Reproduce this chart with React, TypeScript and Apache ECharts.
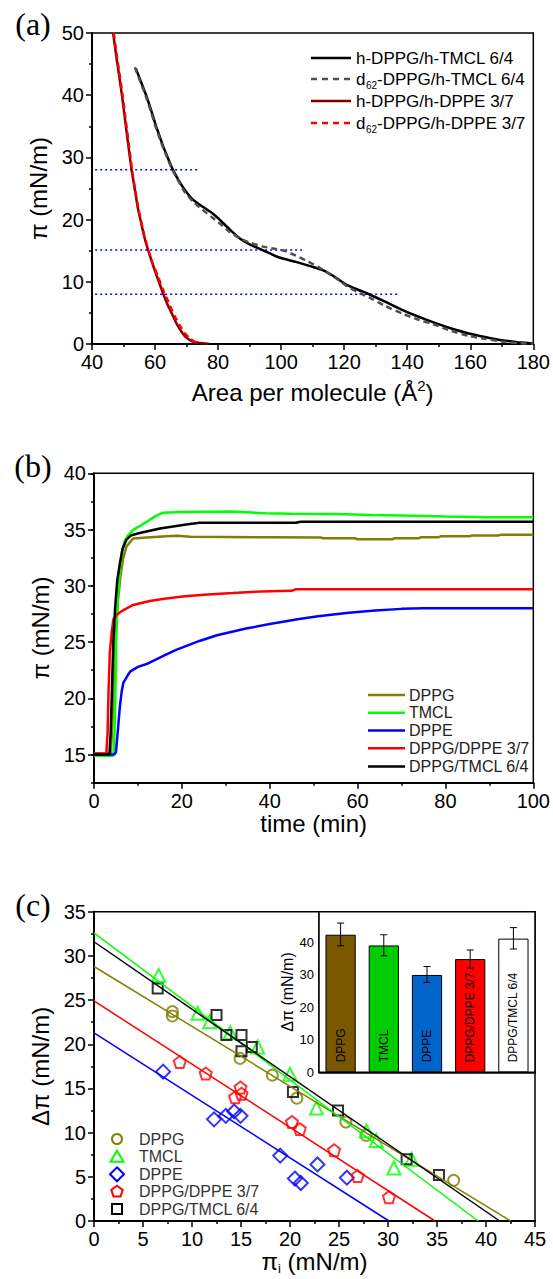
import React, { useEffect, useRef } from 'react';
import * as echarts from 'echarts';

const FONT = 'Liberation Sans, Arial, sans-serif';
const SERIF = 'Liberation Serif, Times New Roman, serif';

// ---------- Panel (a): isotherms ----------
const hTmclIsotherm: number[][] = [[53.9,44.3],[55.5,42.2],[57.3,39.8],[59,37.2],[60.4,34.9],[62.5,31.9],[64,30],[65.7,28],[67.5,26.3],[69.4,24.8],[72,23.2],[75,22.1],[78.3,21.0],[80.5,20.0],[83.5,18.5],[86.8,17.0],[90,16.0],[94.1,15.1],[96.3,14.6],[99.4,13.9],[104.7,13.2],[110,12.4],[113,11.9],[117.3,10.7],[120.5,9.6],[124,8.8],[127.9,8.0],[133,6.8],[138.4,5.5],[143,4.5],[149,3.35],[154,2.5],[159.5,1.7],[165,1.1],[170,0.6],[175,0.3],[180,0.1]];
const dTmclIsotherm: number[][] = [[53.6,44.5],[55.3,42.2],[57.1,39.8],[58.8,37.2],[60.2,34.9],[62.3,31.9],[63.8,30],[65.5,28],[67.3,26.3],[69.2,24.6],[72,22.9],[75,21.6],[78,20.4],[80.5,19.4],[83.5,18.1],[86.8,17.0],[90,16.3],[94,15.7],[98,15.3],[101,15.0],[104.7,14.2],[108,13.4],[112.1,12.3],[117.3,10.6],[120.5,9.4],[124,8.4],[127.9,7.5],[133,6.1],[138.4,4.9],[143,4.0],[149,3.05],[154,2.1],[159.5,1.3],[165,0.8],[170,0.4],[175,0.15],[180,0.05]];
const hDppeIsotherm: number[][] = [[46.7,50],[47.5,47],[48.5,43.5],[49.5,40],[50.5,36],[51.5,32],[52.55,28],[53.6,24.8],[54.5,22],[55.5,19.7],[56.6,17.2],[57.8,15.1],[59,13.2],[60.5,11.0],[62.5,8.2],[64,6.3],[65.5,4.7],[66.8,3.3],[68.5,1.9],[70,1.0],[72,0.4],[74,0.15],[77,0.05]];
const dDppeIsotherm: number[][] = [[46.9,50],[47.7,47],[48.7,43.5],[49.7,40],[50.7,36],[51.7,32],[52.7,28],[53.7,24.8],[54.6,22],[55.6,19.7],[56.7,17.2],[57.9,15.1],[59.1,13.2],[60.8,11.0],[62.9,8.3],[64.6,6.3],[66.2,4.5],[67.8,3.0],[69.5,1.7],[71,0.9],[72.5,0.35],[74,0.1]];
const guideLevels = [28, 15.1, 8];
const guideStart = 41;
const guideEnds = [74, 107, 137];
const isoLegend = ['h-DPPG/h-TMCL 6/4', 'd62-DPPG/h-TMCL 6/4', 'h-DPPG/h-DPPE 3/7', 'd62-DPPG/h-DPPE 3/7'];

// ---------- Panel (b): adsorption kinetics ----------
const kinDPPG: number[][] = [[0,15.1],[3.8,15.1],[4.1,17],[4.5,21],[4.9,25],[5.4,28.5],[6.0,30.8],[6.6,32.4],[7.4,33.5],[8.9,34.2],[12,34.3],[16.5,34.4],[19,34.45],[22,34.35],[40,34.32],[51.6,34.3],[52,34.23],[59.4,34.23],[60,34.14],[67.9,34.14],[68.5,34.23],[73.9,34.23],[74.5,34.32],[78.5,34.32],[79,34.41],[85.6,34.41],[86,34.47],[92,34.47],[92.5,34.53],[100,34.53]];
const kinTMCL: number[][] = [[0,14.9],[4.4,14.9],[4.6,16],[4.8,19],[5.0,23],[5.1,26.4],[5.5,29.4],[6.0,31.8],[6.3,32.9],[7.0,34.0],[7.8,34.5],[9,35.0],[10.4,35.3],[12,35.7],[13.8,36.15],[15.7,36.5],[20,36.55],[31.6,36.6],[39,36.45],[45,36.4],[55,36.38],[63,36.3],[70,36.24],[80,36.15],[90,36.1],[100,36.1]];
const kinDPPE: number[][] = [[0,15.0],[4.6,15.0],[5.0,15.2],[5.4,17],[5.9,19.3],[6.3,20.6],[6.7,21.4],[7.6,22.0],[8.3,22.4],[10,22.8],[12.3,23.1],[16.5,23.9],[18.7,24.3],[24,25.1],[28,25.6],[34.6,26.2],[40,26.6],[46.7,27.05],[51,27.3],[58,27.6],[64,27.8],[70,27.95],[75,28.0],[100,28.0]];
const kinDPPE37: number[][] = [[0,15.1],[2.8,15.1],[3.1,17],[3.3,20.5],[3.6,24],[4.0,25.8],[4.4,27.0],[5.1,27.4],[6.5,27.8],[8.9,28.3],[12.7,28.65],[16,28.85],[20.2,29.05],[25,29.2],[31.6,29.35],[38,29.5],[45,29.55],[46,29.7],[100,29.7]];
const kinTMCL64: number[][] = [[0,15.0],[3.5,15.0],[3.8,17],[4.1,21],[4.4,25],[4.8,28],[5.3,30.5],[5.9,32.0],[6.5,33.3],[7.4,34.1],[8.5,34.5],[10.4,34.7],[15,35.1],[21,35.45],[24,35.6],[46,35.6],[47,35.7],[100,35.7]];
const kinLegend = ['DPPG', 'TMCL', 'DPPE', 'DPPG/DPPE 3/7', 'DPPG/TMCL 6/4'];

// ---------- Panel (c): delta pi vs pi_i ----------
const scDPPG: number[][] = [[8.0,23.7],[8.0,23.2],[14.9,18.4],[18.2,16.5],[20.7,13.9],[25.7,11.2],[27.75,9.7],[36.7,4.6]];
const scTMCL: number[][] = [[6.6,27.8],[10.6,23.5],[11.8,22.55],[13.9,21.3],[16.7,19.7],[20.0,16.6],[22.7,12.8],[27.8,10.2],[28.8,9.1],[30.6,6.0],[32.4,7.0]];
const scDPPE: number[][] = [[7.05,16.9],[12.25,11.5],[13.45,11.9],[14.3,12.4],[14.95,11.9],[19.0,7.4],[20.5,4.8],[21.1,4.3],[22.8,6.4],[25.8,4.9]];
const scMix37: number[][] = [[8.75,18.0],[11.4,16.7],[14.4,14.0],[14.95,15.1],[15.05,14.4],[20.2,11.2],[21.0,10.4],[24.5,8.0],[26.9,5.1],[30.1,2.7]];
const scMix64: number[][] = [[6.5,26.3],[12.5,23.3],[13.5,21.05],[15.05,21.05],[15.05,19.2],[16.1,19.7],[20.3,14.6],[24.9,12.5],[31.9,7.0],[35.2,5.2]];
const fitIntercepts = [28.8, 32.6, 21.3, 24.9, 31.6];
const fitRoots = [42.5, 39.2, 30.1, 34.8, 41.4];

// inset
const insetCategories = ['DPPG', 'TMCL', 'DPPE', 'DPPG/DPPE 3/7', 'DPPG/TMCL 6/4'];
const insetValues = [42.4, 39.1, 30.0, 34.9, 41.2];
const insetErrLow = [39.0, 35.9, 27.7, 32.1, 38.0];
const insetErrHigh = [46.0, 42.4, 32.6, 37.7, 44.6];

const kinColors = ['#808000', '#00FF00', '#0000FF', '#FF0000', '#000000'];
const barColors = ['#7B5800', '#00CC00', '#0066CC', '#FF0000', '#FFFFFF'];

const axisCommon = {
  axisLine: { onZero: false, lineStyle: { color: '#000', width: 2 } },
  axisTick: { length: 6, lineStyle: { color: '#000', width: 1.5 } },
  minorTick: { show: true, splitNumber: 2, length: 3, lineStyle: { color: '#000', width: 1.5 } },
  splitLine: { show: false },
  axisLabel: { color: '#000', fontSize: 20, fontFamily: FONT, margin: 8 },
  nameLocation: 'middle',
  nameTextStyle: { color: '#000', fontSize: 24, fontFamily: FONT },
};

function buildOption() {
  const grids = [
    { left: 92, top: 33, width: 443, height: 311 },
    { left: 94, top: 473.3, width: 441, height: 309.4 },
    { left: 94, top: 911.7, width: 441, height: 309.3 },
    { left: 319, top: 911.7, width: 216, height: 160.6, backgroundColor: '#fff', z: 10 },
  ].map((g) => ({ show: true, borderColor: '#000', borderWidth: 1.5, backgroundColor: 'transparent', ...g }));

  const xAxis: any[] = [
    {
      ...axisCommon, gridIndex: 0, type: 'value', min: 40, max: 180, interval: 20,
      name: '{n|Area per molecule (Å}{s|2}{n|)}', nameGap: 34,
      nameTextStyle: { ...axisCommon.nameTextStyle, rich: {
        n: { fontSize: 24, fontFamily: FONT, color: '#000', lineHeight: 28 },
        s: { fontSize: 15, fontFamily: FONT, color: '#000', verticalAlign: 'top', lineHeight: 28 },
      } },
    },
    { ...axisCommon, gridIndex: 1, type: 'value', min: 0, max: 100, interval: 20, name: 'time (min)', nameGap: 28 },
    {
      ...axisCommon, gridIndex: 2, type: 'value', min: 0, max: 45, interval: 5,
      name: '{n|π}{s|i}{n| (mN/m)}', nameGap: 25,
      nameTextStyle: { ...axisCommon.nameTextStyle, rich: {
        n: { fontSize: 24, fontFamily: FONT, color: '#000', lineHeight: 26 },
        s: { fontSize: 13, fontFamily: FONT, color: '#000', verticalAlign: 'bottom', lineHeight: 26 },
      } },
    },
    {
      gridIndex: 3, type: 'category', data: insetCategories,
      axisLine: { lineStyle: { color: '#000', width: 1.5 } },
      axisTick: { show: false }, axisLabel: { show: false }, splitLine: { show: false },
    },
  ];

  const yAxis: any[] = [
    { ...axisCommon, gridIndex: 0, type: 'value', min: 0, max: 50, interval: 10, name: 'π (mN/m)', nameGap: 36 },
    {
      ...axisCommon, gridIndex: 1, type: 'value', min: 12.5, max: 40, position: 'left',
      axisLabel: { ...axisCommon.axisLabel, customValues: [15, 20, 25, 30, 35, 40] },
      axisTick: { ...axisCommon.axisTick, customValues: [15, 20, 25, 30, 35, 40] },
      minorTick: { show: false },
      name: 'π (mN/m)', nameGap: 38,
    },
    {
      gridIndex: 1, type: 'value', min: 12.5, max: 40, interval: 2.5, position: 'left',
      axisLine: { show: false }, axisLabel: { show: false }, splitLine: { show: false },
      axisTick: { length: 3, lineStyle: { color: '#000', width: 1.5 } },
    },
    { ...axisCommon, gridIndex: 2, type: 'value', min: 0, max: 35, interval: 5, name: 'Δπ (mN/m)', nameGap: 38 },
    {
      gridIndex: 3, type: 'value', min: 0, max: 49.5, interval: 10,
      axisLine: { show: true, lineStyle: { color: '#000', width: 1.5 } },
      axisTick: { show: true, inside: true, length: 3, lineStyle: { color: '#000', width: 1 } },
      minorTick: { show: true, splitNumber: 2, length: 2, lineStyle: { color: '#000', width: 1 } },
      splitLine: { show: false },
      axisLabel: { color: '#000', fontSize: 13, fontFamily: FONT, margin: 5, showMaxLabel: false },
      name: 'Δπ (mN/m)', nameLocation: 'middle', nameGap: 20,
      nameTextStyle: { color: '#000', fontSize: 16, fontFamily: FONT },
    },
  ];

  const series: any[] = [];
  // (a) guides
  guideLevels.forEach((lvl, i) => {
    series.push({
      type: 'line', xAxisIndex: 0, yAxisIndex: 0, showSymbol: false, silent: true,
      data: [[guideStart, lvl], [guideEnds[i], lvl]],
      lineStyle: { color: '#0000FF', type: [2, 3], width: 1.5 },
    });
  });
  const isoDefs: [number[][], string, any][] = [
    [hTmclIsotherm, '#000000', 'solid'],
    [dTmclIsotherm, '#505050', [6, 4]],
    [hDppeIsotherm, '#800000', 'solid'],
    [dDppeIsotherm, '#FF0000', [6, 4]],
  ];
  isoDefs.forEach(([d, c, t]) => {
    series.push({
      type: 'line', xAxisIndex: 0, yAxisIndex: 0, showSymbol: false, silent: true, smooth: 0.15,
      data: d, lineStyle: { color: c, width: 2.5, type: t },
    });
  });
  // (b)
  [kinDPPG, kinTMCL, kinDPPE, kinDPPE37, kinTMCL64].forEach((d, i) => {
    series.push({
      type: 'line', xAxisIndex: 1, yAxisIndex: 1, showSymbol: false, silent: true,
      data: d, lineStyle: { color: kinColors[i], width: 2.5 },
    });
  });
  // (c) fits
  fitIntercepts.forEach((b, i) => {
    series.push({
      type: 'line', xAxisIndex: 2, yAxisIndex: 3, showSymbol: false, silent: true,
      data: [[0, b], [fitRoots[i], 0]], lineStyle: { color: kinColors[i], width: 1.5 },
    });
  });
  const pent = 'path://M0,-10L9.51,-3.09L5.88,8.09L-5.88,8.09L-9.51,-3.09Z';
  const scDefs: [number[][], string, number][] = [
    [scDPPG, 'circle', 11],
    [scTMCL, 'triangle', 13],
    [scDPPE, 'diamond', 14],
    [scMix37, pent, 12],
    [scMix64, 'rect', 10],
  ];
  scDefs.forEach(([d, sym, size], i) => {
    series.push({
      type: 'scatter', xAxisIndex: 2, yAxisIndex: 3, silent: true, data: d,
      symbol: sym, symbolSize: size,
      itemStyle: { color: 'rgba(0,0,0,0)', borderColor: kinColors[i], borderWidth: 2 },
    });
  });
  // inset bars
  series.push({
    type: 'bar', xAxisIndex: 3, yAxisIndex: 4, silent: true, barWidth: '70%', z: 11,
    data: insetValues.map((v, i) => ({ value: v, itemStyle: { color: barColors[i] } })),
    itemStyle: { borderColor: '#000', borderWidth: 1 },
    label: {
      show: true, position: 'insideBottom', rotate: 90, align: 'left', verticalAlign: 'middle',
      distance: 10, fontSize: 12, fontFamily: FONT, color: '#000',
      formatter: (p: any) => insetCategories[p.dataIndex],
    },
  });
  series.push({
    type: 'custom', xAxisIndex: 3, yAxisIndex: 4, silent: true, z: 12,
    data: insetCategories.map((_, i) => [i, insetErrLow[i], insetErrHigh[i]]),
    renderItem: (params: any, api: any) => {
      const x = api.value(0);
      const lo = api.coord([x, api.value(1)]);
      const hi = api.coord([x, api.value(2)]);
      const w = 3.5;
      const st = { stroke: '#000', lineWidth: 1 };
      return {
        type: 'group',
        children: [
          { type: 'line', shape: { x1: hi[0], y1: hi[1], x2: lo[0], y2: lo[1] }, style: st },
          { type: 'line', shape: { x1: hi[0] - w, y1: hi[1], x2: hi[0] + w, y2: hi[1] }, style: st },
          { type: 'line', shape: { x1: lo[0] - w, y1: lo[1], x2: lo[0] + w, y2: lo[1] }, style: st },
        ],
      };
    },
  });

  // graphics
  const graphic: any[] = [];
  const panelLabel = (t: string, x: number, y: number) => graphic.push({
    type: 'text', x, y, style: { text: t, fontSize: 32, fontFamily: SERIF, fill: '#000', align: 'center', verticalAlign: 'middle' },
  });
  panelLabel('(a)', 33, 24);
  panelLabel('(b)', 33, 466);
  panelLabel('(c)', 33, 905);

  // legend (a)
  const aRows = [58, 79, 101, 123];
  const aStyles: [string, any][] = [['#000000', null], ['#505050', [6, 5]], ['#800000', null], ['#FF0000', [6, 5]]];
  aRows.forEach((y, i) => {
    const [c, dash] = aStyles[i];
    graphic.push({ type: 'line', shape: { x1: 311, y1: y, x2: 351, y2: y }, style: { stroke: c, lineWidth: 2.5, lineDash: dash || undefined } });
    const label = isoLegend[i];
    if (label.startsWith('d62')) {
      graphic.push({ type: 'text', x: 356, y, style: { text: 'd', fontSize: 17, fontFamily: FONT, fill: '#000', verticalAlign: 'middle' } });
      graphic.push({ type: 'text', x: 366, y: y + 6, style: { text: '62', fontSize: 10, fontFamily: FONT, fill: '#000', verticalAlign: 'middle' } });
      graphic.push({ type: 'text', x: 377, y, style: { text: label.slice(3), fontSize: 17, fontFamily: FONT, fill: '#000', verticalAlign: 'middle' } });
    } else {
      graphic.push({ type: 'text', x: 356, y, style: { text: label, fontSize: 17, fontFamily: FONT, fill: '#000', verticalAlign: 'middle' } });
    }
  });

  // legend (b)
  const bRows = [695, 712.7, 730.5, 748.3, 766.5];
  bRows.forEach((y, i) => {
    graphic.push({ type: 'line', shape: { x1: 368, y1: y, x2: 405, y2: y }, style: { stroke: kinColors[i], lineWidth: 2.5 } });
    graphic.push({ type: 'text', x: 409, y, style: { text: kinLegend[i], fontSize: 16, fontFamily: FONT, fill: '#222', verticalAlign: 'middle' } });
  });

  // legend (c)
  const cRows = [1139, 1156.7, 1174.3, 1191.7, 1209];
  const sx = 117;
  cRows.forEach((y, i) => {
    const st = { fill: 'none', stroke: kinColors[i], lineWidth: 2 };
    if (i === 0) graphic.push({ type: 'circle', shape: { cx: sx, cy: y, r: 5 }, style: st });
    if (i === 1) graphic.push({ type: 'polygon', shape: { points: [[sx, y - 6], [sx + 6.5, y + 5], [sx - 6.5, y + 5]] }, style: st });
    if (i === 2) graphic.push({ type: 'polygon', shape: { points: [[sx, y - 7], [sx + 7, y], [sx, y + 7], [sx - 7, y]] }, style: st });
    if (i === 3) {
      const pts: number[][] = [];
      for (let k = 0; k < 5; k++) {
        const a = -Math.PI / 2 + (k * 2 * Math.PI) / 5;
        pts.push([sx + 6 * Math.cos(a), y + 6 * Math.sin(a)]);
      }
      graphic.push({ type: 'polygon', shape: { points: pts }, style: st });
    }
    if (i === 4) graphic.push({ type: 'rect', shape: { x: sx - 5, y: y - 5, width: 10, height: 10 }, style: st });
    graphic.push({ type: 'text', x: 139, y, style: { text: kinLegend[i], fontSize: 16, fontFamily: FONT, fill: '#333', verticalAlign: 'middle' } });
  });

  return {
    animation: false,
    backgroundColor: '#fff',
    grid: grids,
    xAxis,
    yAxis,
    series,
    graphic,
  };
}

export default function App() {
  const ref = useRef<HTMLDivElement>(null);
  useEffect(() => {
    const chart = echarts.init(ref.current!, undefined, { renderer: 'svg' });
    chart.setOption(buildOption() as any);
    return () => chart.dispose();
  }, []);
  return (
    <div
      ref={ref}
      style={{ position: 'absolute', left: 0, top: 0, width: 553, height: 1279, background: '#fff' }}
    />
  );
}
